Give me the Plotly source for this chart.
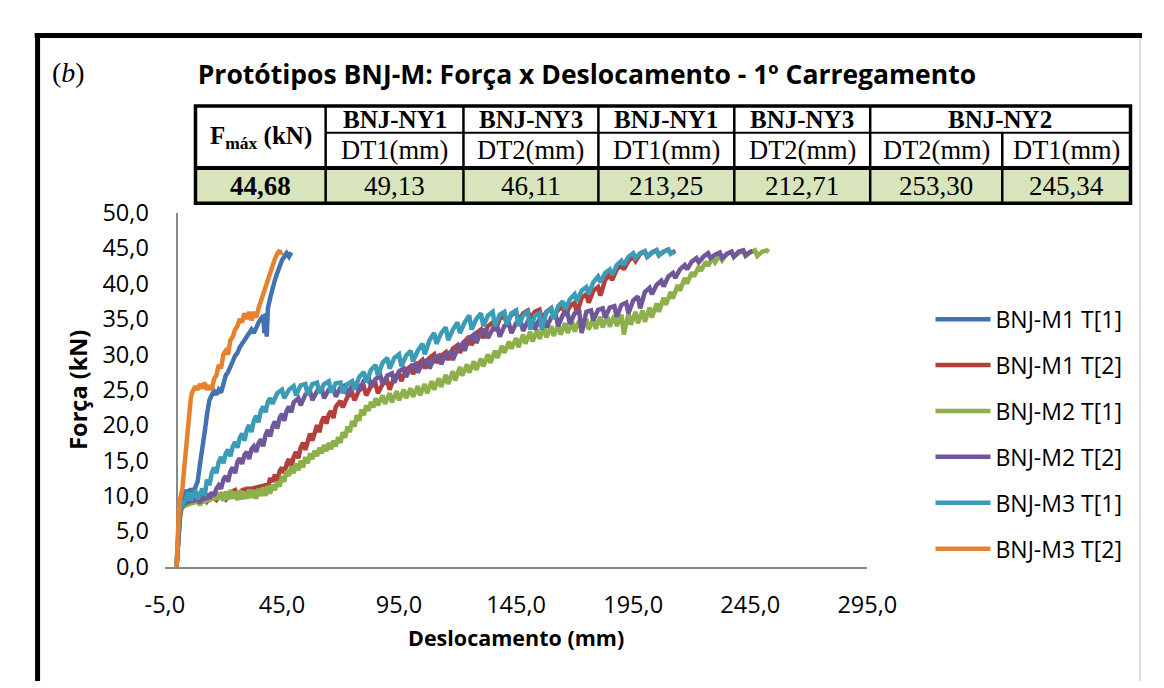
import plotly.graph_objects as go

# ---------------- data ----------------
series_names = ["BNJ-M1 T[1]", "BNJ-M1 T[2]", "BNJ-M2 T[1]", "BNJ-M2 T[2]", "BNJ-M3 T[1]", "BNJ-M3 T[2]"]
series_colors = ["#4272B0", "#B33F3B", "#8DB04B", "#70569A", "#3C9BB6", "#E5812F"]

m1t1_points = [(0,0),(0.5,4),(1,7),(1.5,8.5),(2,9.5),(3,10),(4,10.8),(5,10.2),(6,11),(7,10.5),(8,11.2),(9,12),
    (10,14.5),(11,16.5),(12,19),(13,21.5),(14,23.5),(15,24.2),(16,24.8),(17,24.3),(18,25),(19,24.6),(20,25.8),
    (21,27),(22,27.5),(23,28.5),(24,29),(25,29.8),(26,30.2),(27,31),(28,31.5),(29,32),(30,32.6),(31,33),(32,33.5),
    (33,33),(34,34),(35,34.5),(36,35),(37,35.5),(37.5,33),(38,35.8),(38.5,32.5),(39,36.5),(40,38),(41,39.5),
    (42,40.5),(43,41.5),(44,42.5),(45,43.3),(46,43.8),(47,44.3),(48,43.8),(49,44.4)]

m1t2_points = [(0,0),(0.5,3.5),(1,6),(1.5,7.5),(2,8.3),(3,8.8),(4,9),(6,9.2),(8,9.3),(10,9.5),(12,9.8),(13,9.2),
    (15,10),(17,9.4),(19,10.2),(21,9.5),(23,10.5),(25,10.8),(26,9.8),(28,10.8),(30,11),(32,11),(34,11.2),(36,11.3),
    (38,11.5),(39,11.3),(40,12.5),(41,12),(42,13),(43,12.2),(44,13.5),(45,14),(46,13.2),(47,14.5),(48,15.2),(49,14),
    (50,15.5),(51,16.2),(52,15.3),(53,16.8),(54,17.5),(55,16.5),(56,18),(57,18.8),(58,17.8),(59,19.2),(60,20),
    (61,19),(62,20.5),(63,21.2),(64,20.2),(65,21.5),(66,22),(67,21),(68,22.6),(70,23.4),(71,22.5),(73,24),(75,24.5),
    (76,23.5),(78,25),(80,25.4),(81,24.2),(83,25.5),(85,25.8),(86,24.5),(88,25.8),(90,26.2),(91,25),(93,26.8),
    (95,27.3),(96,26.2),(98,27.8),(100,28.3),(101,27.2),(103,28.6),(105,29.2),(106,28),(108,29.5),(110,30),
    (111,28.8),(113,29.8),(115,30.3),(116,29.2),(118,30.8),(120,31.3),(121,30.2),(123,31.8),(125,32.5),(126,31.3),
    (128,33),(130,33.5),(131,32.3),(133,34),(135,34.5),(136,33.3),(138,35),(140,35.5),(141,34.3),(143,35.6),
    (145,36),(146,34.8),(148,35.8),(150,36.2),(151,35),(153,36),(155,36.3),(156,35),(158,36),(160,36.5),(161,35.3),
    (163,36.3),(165,36.8),(166,35.5),(168,36.8),(170,37.3),(171,35.8),(173,38),(175,38.5),(176,37.3),(178,39),
    (180,39.5),(181,38.3),(183,40.5),(185,41.3),(186,40.5),(188,42),(190,42.6),(191,42),(193,43.2),(195,43.8),
    (196,43.2),(198,44.2),(200,44.5),(201,43.8),(203,44.4),(205,44.7),(206,44),(208,44.5),(210,44.8),(211,44.3),
    (213,44.6)]

m2t1_points = [(0,0),(0.5,3),(1,5.5),(1.5,7),(2,8),(3,8.5),(5,8.8),(7,9),(9,9.2),(10,8.7),(11,9.5),(12,9),(13,10),
    (14,9.2),(15,10.3),(16,9.4),(17,10.5),(18,9.5),(19,10.4),(20,9.3),(21,10.6),(22,9.5),(23,10.8),(24,9.6),
    (25,10.6),(26,9.4),(27,10.8),(28,9.5),(29,10.6),(30,9.6),(31,10.9),(32,9.7),(33,10.8),(34,9.6),(35,11),(36,10),
    (37,11.2),(38,10),(39,11.4),(40,10.3),(41,11.6),(42,10.8),(43,12),(44,11.3),(45,12.8),(46,12),(47,13.5),
    (48,12.8),(49,14.2),(50,13.2),(51,14.6),(52,13.6),(53,15),(54,14),(55,15.5),(56,14.6),(57,16),(58,15.2),
    (59,16.4),(60,15.6),(61,16.8),(62,16),(63,17.2),(64,16.3),(65,17.5),(66,16.6),(67,17.8),(68,17),(69,18.3),
    (70,17.5),(71,19),(72,18.2),(73,19.8),(74,19),(75,20.6),(76,19.8),(77,21.4),(78,20.6),(79,22.2),(80,21.4),
    (81,22.8),(82,22),(83,23.3),(84,22.5),(85,23.8),(86,22.8),(88,24.2),(89,23),(91,24.5),(92,23.2),(94,24.8),
    (95,23.5),(97,25),(98,23.8),(100,25.2),(101,24),(103,25.5),(104,24.2),(106,25.8),(107,24.5),(109,26.2),(110,25),
    (112,26.6),(113,25.4),(115,27.1),(116,25.8),(118,27.6),(119,26.3),(121,28.2),(122,27),(124,28.6),(125,27.4),
    (127,29),(128,27.8),(130,29.4),(131,28.3),(133,30),(134,28.8),(136,30.5),(137,29.5),(139,31.2),(140,30.2),
    (142,31.8),(143,30.8),(145,32.3),(146,31),(148,32.8),(149,31.5),(151,33.2),(152,31.8),(154,33.5),(155,32.2),
    (157,33.8),(158,32.4),(160,34),(161,32.6),(163,34.2),(164,32.8),(166,34.4),(167,33),(169,34.6),(170,33.2),
    (172,34.8),(173,33.3),(175,35),(176,33.5),(178,35.1),(179,33.6),(181,35.3),(182,33.8),(184,35.4),(185,33.9),
    (187,35.5),(188,34),(190,35.6),(191,32.8),(193,35.8),(194,34.2),(196,36),(197,34.4),(199,36.2),(200,34.6),
    (202,36.6),(203,35.2),(205,37.2),(206,36),(208,38),(209,37),(211,38.8),(212,37.9),(214,39.8),(215,39),
    (217,40.8),(218,40),(220,41.6),(221,41),(223,42.4),(224,41.8),(226,43.1),(227,42.5),(229,43.6),(230,43),
    (232,44),(233,43.3),(235,44.2),(237,44.5),(238,43.8),(240,44.3),(242,44.6),(243,43.9),(245,44.4),(247,44.7),
    (248,43.9),(250,44.5),(252,44.7),(253,44.5)]

m2t2_points = [(0,0),(0.5,3.5),(1,6),(1.5,7.5),(2,8.3),(3,8.8),(5,9.2),(7,9.3),(9,9.6),(10,9),(11,10),(12,9.4),
    (13,10.3),(14,9.6),(15,10.5),(16,10),(17,11),(18,11.5),(19,11),(20,12.3),(21,12.8),(22,12),(23,13.5),(24,14),
    (25,13.2),(26,14.8),(27,15.3),(28,14.5),(29,15.8),(30,16.2),(31,15.2),(32,16.6),(33,17),(34,16.2),(35,17.4),
    (36,18),(37,17),(38,18.6),(39,19.3),(40,18.4),(41,19.8),(42,20.5),(43,19.5),(44,21),(45,21.6),(46,20.6),(47,22),
    (48,22.6),(49,21.8),(50,23.2),(52,23.8),(53,22.8),(55,24.3),(57,24.8),(58,23.5),(60,24.8),(62,25.2),(63,23.8),
    (65,25),(67,25.3),(68,24),(70,25.3),(72,25.6),(73,24.3),(75,25.6),(77,26),(78,24.8),(80,26.3),(82,26.8),
    (83,25.5),(85,26.5),(87,27),(88,25.8),(90,27),(92,27.3),(93,26),(95,27.6),(97,28),(98,26.8),(100,28.2),
    (102,28.6),(103,27.4),(105,28.8),(107,29.2),(108,28),(110,29.5),(112,29.8),(113,28.6),(115,30),(117,30.3),
    (118,29.2),(120,30.8),(122,31.5),(123,30.5),(125,32.3),(127,32.8),(128,31.6),(130,33.2),(132,33.5),(133,32.3),
    (135,33.6),(137,33.9),(138,32.5),(140,34),(142,34.3),(143,33),(145,34.4),(147,34.6),(148,33.3),(150,34.7),
    (152,35),(153,33.5),(155,35),(157,35.2),(158,33.8),(160,35.2),(162,35.5),(163,34),(165,35.6),(167,35.8),
    (168,34.3),(170,35.8),(172,36),(173,33),(175,36),(177,36.2),(178,34.8),(180,36.3),(182,36.5),(183,35.2),
    (185,36.6),(187,36.8),(188,35.3),(190,37),(192,37.3),(193,35.8),(195,37.6),(197,38.2),(198,36.5),(200,38.8),
    (202,39.4),(203,38.5),(205,39.8),(207,40.4),(208,39.6),(210,41),(212,41.5),(213,40.8),(215,42),(217,42.6),
    (218,42),(220,43.1),(222,43.6),(223,43),(225,43.8),(227,44.3),(228,43.6),(230,44.1),(232,44.4),(233,43.6),
    (235,44.2),(237,44.5),(238,43.8),(240,44.5),(242,44.7),(243,44),(245,44.5),(246,44.6)]

m3t1_points = [(0,0),(0.5,4),(1,6.5),(1.5,7.8),(2,8.5),(3,9),(4,9.5),(5,10.5),(6,9.3),(7,10),(8,10.8),(9,9.5),
    (10,10.5),(11,11),(12,10),(13,12.3),(14,11.5),(15,13.2),(16,14),(17,13.2),(18,14.8),(19,15.5),(20,14.6),(21,16),
    (22,16.5),(23,15.6),(24,17),(25,17.6),(26,16.8),(27,18.2),(28,18.8),(29,17.8),(30,19.3),(31,20),(32,19),
    (33,20.6),(34,21.3),(35,20.4),(36,22),(37,22.6),(38,21.8),(39,23.3),(40,23.8),(41,23),(43,24.5),(45,25),
    (46,23.8),(48,25),(50,25.5),(51,24.2),(53,25.6),(55,25.8),(56,24.3),(58,25.8),(60,26),(61,24.5),(63,25.8),
    (65,26.2),(66,24.6),(68,25.9),(70,26),(71,24.5),(73,25.8),(75,26.2),(76,25),(78,26.8),(80,27.5),(81,26),
    (83,27.8),(85,28.5),(86,27),(88,28.8),(90,29.5),(91,28),(93,29.5),(95,30),(96,28.3),(98,29.8),(100,30.5),
    (101,29),(103,30.5),(105,31.5),(106,30),(108,32),(110,33),(111,31.5),(113,33),(115,33.8),(116,32),(118,33.5),
    (120,34.5),(121,33),(123,34.5),(125,35.5),(126,33.5),(128,35),(130,35.8),(131,34),(133,35.5),(135,36),(136,34),
    (138,35.6),(140,36),(141,34.2),(143,35.8),(145,36.2),(146,34),(148,35.5),(150,36),(151,33.5),(153,35.5),
    (155,35.8),(156,33.5),(158,36),(160,36.5),(161,35),(163,36.8),(165,37.5),(166,36.3),(168,37.8),(170,38.5),
    (171,37.5),(173,39),(175,39.5),(176,38.6),(178,40.2),(180,41),(181,40.2),(183,41.5),(185,42),(186,41.2),
    (188,42.6),(190,43.2),(191,42.6),(193,43.8),(195,44.3),(196,43.6),(198,44.3),(200,44.6),(201,43.8),(203,44.3),
    (205,44.7),(206,44),(208,44.5),(210,44.8),(211,44.2),(212.5,44.5)]

m3t2_points = [(0,0),(0.3,3),(0.6,6),(1,8),(1.5,9.5),(2,10.5),(2.5,11),(3,13),(3.5,15),(4,16.5),(4.5,18),(5,20),
    (5.5,22),(6,23.5),(6.5,24.5),(7,25),(8,25.5),(9,25),(10,25.8),(11,25.2),(12,26),(13,25),(14,25.6),(15,25),
    (16,26.5),(17,27),(18,28.5),(19,28),(20,30),(21,30.5),(22,30),(23,32),(24,32.5),(25,33.5),(26,34),(27,35),
    (28,34.5),(29,35.8),(30,35),(31,36),(32,34.8),(33,36),(34,35.2),(35,36.5),(36,37.5),(37,38.5),(38,39.5),
    (39,40.5),(40,41.8),(41,42.5),(42,43.5),(43,44.2),(44,44.7),(44.5,44.2),(45,44.5)]

series_points = [m1t1_points, m1t2_points, m2t1_points, m2t2_points, m3t1_points, m3t2_points]

x_tick_values = [-5, 45, 95, 145, 195, 245, 295]
y_tick_values = [0, 5, 10, 15, 20, 25, 30, 35, 40, 45, 50]

table_fmax_label = "F<sub>máx</sub> (kN)"
table_fmax_value = "44,68"
table_groups = ["BNJ-NY1", "BNJ-NY3", "BNJ-NY1", "BNJ-NY3", "BNJ-NY2"]
table_sensors = ["DT1(mm)", "DT2(mm)", "DT1(mm)", "DT2(mm)", "DT2(mm)", "DT1(mm)"]
table_values = ["49,13", "46,11", "213,25", "212,71", "253,30", "245,34"]

# ---------------- layout helpers ----------------
W, H = 1164, 688
def X(px):
    return px / W
def Y(py):
    return 1 - py / H

def fmt(v):
    return f"{v:.1f}".replace(".", ",")

fig = go.Figure()
for name, color, pts in zip(series_names, series_colors, series_points):
    fig.add_trace(go.Scatter(
        x=[p[0] for p in pts], y=[p[1] for p in pts], mode="lines", name=name,
        legendgroup=name, line=dict(color=color, width=4.5)))

shapes = []
annotations = []

# outer frame
shapes.append(dict(type="line", xref="paper", yref="paper", x0=X(7), x1=X(1164), y0=Y(11), y1=Y(11),
                   line=dict(color="black", width=5)))
shapes.append(dict(type="line", xref="paper", yref="paper", x0=X(10), x1=X(10), y0=Y(9), y1=Y(688),
                   line=dict(color="black", width=5)))
shapes.append(dict(type="line", xref="paper", yref="paper", x0=X(1162), x1=X(1162), y0=Y(14), y1=Y(688),
                   line=dict(color="#d0d0d0", width=1.5)))

# table geometry
cols = [175, 311, 455, 596, 738, 880, 1018, 1152]
rows = [85, 113, 150, 187]
shapes.append(dict(type="rect", xref="paper", yref="paper", x0=X(cols[0]), x1=X(cols[-1]), y0=Y(rows[2]), y1=Y(rows[3]),
                   fillcolor="#D8E4BC", line=dict(width=0), layer="below"))
shapes.append(dict(type="rect", xref="paper", yref="paper", x0=X(cols[0]), x1=X(cols[-1]), y0=Y(rows[0]), y1=Y(rows[3]),
                   line=dict(color="black", width=3.5)))
shapes.append(dict(type="line", xref="paper", yref="paper", x0=X(cols[1]), x1=X(cols[-1]), y0=Y(rows[1]), y1=Y(rows[1]),
                   line=dict(color="black", width=2)))
shapes.append(dict(type="line", xref="paper", yref="paper", x0=X(cols[0]), x1=X(cols[-1]), y0=Y(rows[2]), y1=Y(rows[2]),
                   line=dict(color="black", width=4)))
for c in cols[1:6]:
    shapes.append(dict(type="line", xref="paper", yref="paper", x0=X(c), x1=X(c), y0=Y(rows[0]), y1=Y(rows[3]),
                       line=dict(color="black", width=2.5)))
shapes.append(dict(type="line", xref="paper", yref="paper", x0=X(cols[6]), x1=X(cols[6]), y0=Y(rows[1]), y1=Y(rows[3]),
                   line=dict(color="black", width=2.5)))

serif = "Liberation Serif, Times New Roman, serif"
def cell(text, x0, x1, y0, y1, size=21, bold=False):
    annotations.append(dict(xref="paper", yref="paper", x=X((x0 + x1) / 2), y=Y((y0 + y1) / 2),
                            text=(f"<b>{text}</b>" if bold else text), showarrow=False,
                            xanchor="center", yanchor="middle",
                            font=dict(family=serif, size=size, color="black")))

cell(table_fmax_label, cols[0], cols[1], rows[0], rows[2], size=25, bold=True)
cell(table_fmax_value, cols[0], cols[1], rows[2], rows[3], size=27, bold=True)
group_spans = [(cols[1], cols[2]), (cols[2], cols[3]), (cols[3], cols[4]), (cols[4], cols[5]), (cols[5], cols[7])]
for g, (a, b) in zip(table_groups, group_spans):
    cell(g, a, b, rows[0], rows[1], size=25, bold=True)
for i, (s, v) in enumerate(zip(table_sensors, table_values)):
    cell(s, cols[i + 1], cols[i + 2], rows[1], rows[2], size=26.5)
    cell(v, cols[i + 1], cols[i + 2], rows[2], rows[3], size=27)

# "(b)" label
annotations.append(dict(xref="paper", yref="paper", x=X(42), y=Y(50), text="(<i>b</i>)", showarrow=False,
                        xanchor="center", yanchor="middle", font=dict(family=serif, size=28, color="black")))

sans = "Open Sans, Noto Sans, sans-serif"
fig.update_layout(
    width=W, height=H, autosize=False,
    margin=dict(l=0, r=0, t=0, b=0),
    paper_bgcolor="white", plot_bgcolor="white",
    font=dict(family=sans, color="black"),
    title=dict(text="Protótipos BNJ-M: Força x Deslocamento - 1º Carregamento",
               x=X(584), y=Y(52), xanchor="center", yanchor="middle", xref="paper", yref="paper",
               font=dict(family=sans, size=26.5, weight="bold", color="black")),
    xaxis=dict(domain=[X(143), X(877)], range=[-5, 295], tickvals=x_tick_values,
               ticktext=[fmt(v) for v in x_tick_values], showgrid=False, zeroline=True,
               zerolinecolor="#898989", zerolinewidth=2, showline=True, linecolor="#898989", linewidth=2,
               ticks="", ticklabelstandoff=16, tickfont=dict(size=23.5),
               title=dict(text="Deslocamento (mm)", font=dict(size=21.5, weight="bold"), standoff=12)),
    yaxis=dict(domain=[Y(568), Y(197)], range=[0, 50], tickvals=y_tick_values,
               ticktext=[fmt(v) for v in y_tick_values], showgrid=False, zeroline=False, showline=False,
               ticks="", ticklabelstandoff=15, tickfont=dict(size=23.5),
               title=dict(text="Força (kN)", font=dict(size=23.5, weight="bold"), standoff=8)),
    legend=dict(x=X(943), y=Y(286), xanchor="left", yanchor="top", font=dict(size=23),
                tracegroupgap=13, itemwidth=55, bgcolor="rgba(0,0,0,0)"),
    shapes=shapes, annotations=annotations,
    showlegend=True,
)

fig.write_html("out.html", config={"displayModeBar": False})
